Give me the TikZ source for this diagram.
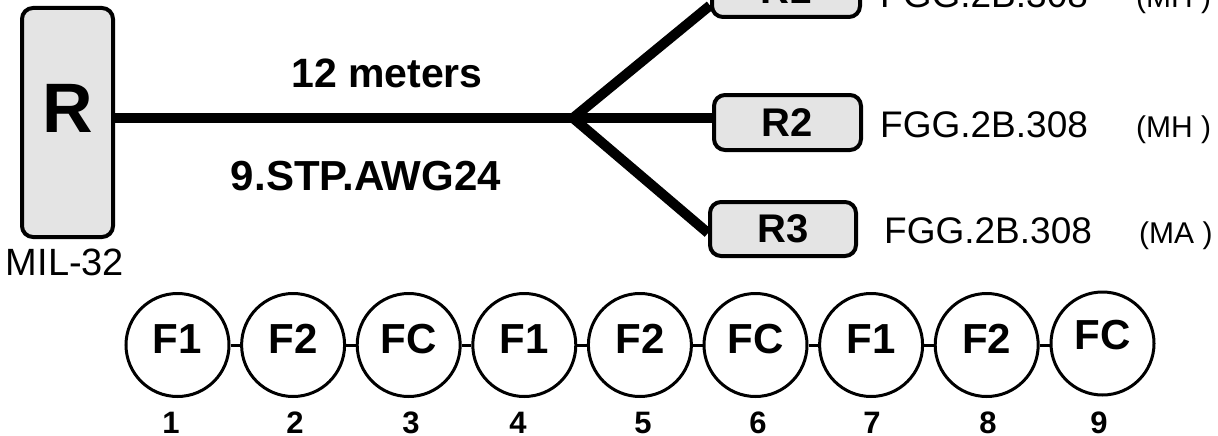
\documentclass[tikz,border=0pt]{standalone}
\usepackage{fontspec}
\setmainfont{Liberation Sans}
\definecolor{boxfill}{RGB}{228,228,228}
\newcommand{\fs}[1]{\fontsize{#1}{#1}\selectfont}
\begin{document}
\begin{tikzpicture}[x=1pt,y=-1pt,
  rbox/.style={draw,line width=4pt,rounded corners=11pt,fill=boxfill,inner sep=0pt,font=\fs{40}\bfseries},
  circ/.style={draw,line width=3pt,circle,minimum size=103pt,inner sep=0pt},
  ctext/.style={font=\fs{42}\bfseries,inner sep=0pt},
  numtext/.style={font=\fs{31}\bfseries,inner sep=0pt,anchor=base},
  wire/.style={line width=10pt,line cap=butt},
  link/.style={line width=3pt},
  code/.style={font=\fs{37},inner sep=0pt,anchor=base west},
  tag/.style={font=\fs{30},inner sep=0pt,anchor=base west}]
\useasboundingbox (0,0) rectangle (1218,436);
\clip (0,0) rectangle (1218,436);
% main unit
\node[rbox,minimum width=91pt,minimum height=229pt] (R) at (67.5,122.5) {};
\node[font=\fs{70}\bfseries,inner sep=0pt,anchor=base] (Rt) at (68,132) {R};
\node[font=\fs{38},inner sep=0pt,anchor=base] (mil) at (65,275) {MIL-32};
% remote boxes
\node[rbox,minimum width=148pt,minimum height=55pt] (R1) at (786,-10.5) {R1};
\node[rbox,minimum width=147pt,minimum height=55pt] (R2) at (787.5,122.5) {R2};
\node[rbox,minimum width=146pt,minimum height=54pt] (R3) at (783,229) {R3};
% junction and wires
\coordinate (J) at (573,118);
\draw[wire] (R.east |- J) -- (R2.west |- J);
\draw[wire] (J) -- ([yshift=-16pt]R1.west);
\draw[wire] (J) -- ([yshift=-4pt]R3.west);
% labels
\node[font=\fs{41}\bfseries,inner sep=0pt,anchor=base] (len) at (387,88) {12 meters};
\node[font=\fs{42}\bfseries,inner sep=0pt,anchor=base] (cab) at (366,190) {9.STP.AWG24};
\node[code] (c1) at (880,8) {FGG.2B.308};
\node[tag] (t1) at (1136,8) {(MH )};
\node[code] (c2) at (880,137) {FGG.2B.308};
\node[tag] (t2) at (1136,137) {(MH )};
\node[code] (c3) at (884,243) {FGG.2B.308};
\node[tag] (t3) at (1139,243) {(MA )};
% circles
\foreach \i/\t/\nx in {1/F1/171,2/F2/295,3/FC/411,4/F1/518,5/F2/643,6/FC/758,7/F1/872,8/F2/988}{
  \node[circ] (f\i) at ({177.5+115.6*(\i-1)},345) {};
  \node[ctext] (ft\i) at ([yshift=6pt]f\i.center) {\t};
  \node[numtext] (n\i) at (\nx,433) {\i};
}
\node[circ] (f9) at (1102.5,343.5) {};
\node[ctext] (ft9) at ([yshift=8pt]f9.center) {FC};
\node[numtext] (n9) at (1099,433) {9};
\foreach \a/\b in {1/2,2/3,3/4,4/5,5/6,6/7,7/8,8/9}{
  \draw[link] (f\a.east) -- (f\b.west |- f\a.east);
}
\end{tikzpicture}
\end{document}
